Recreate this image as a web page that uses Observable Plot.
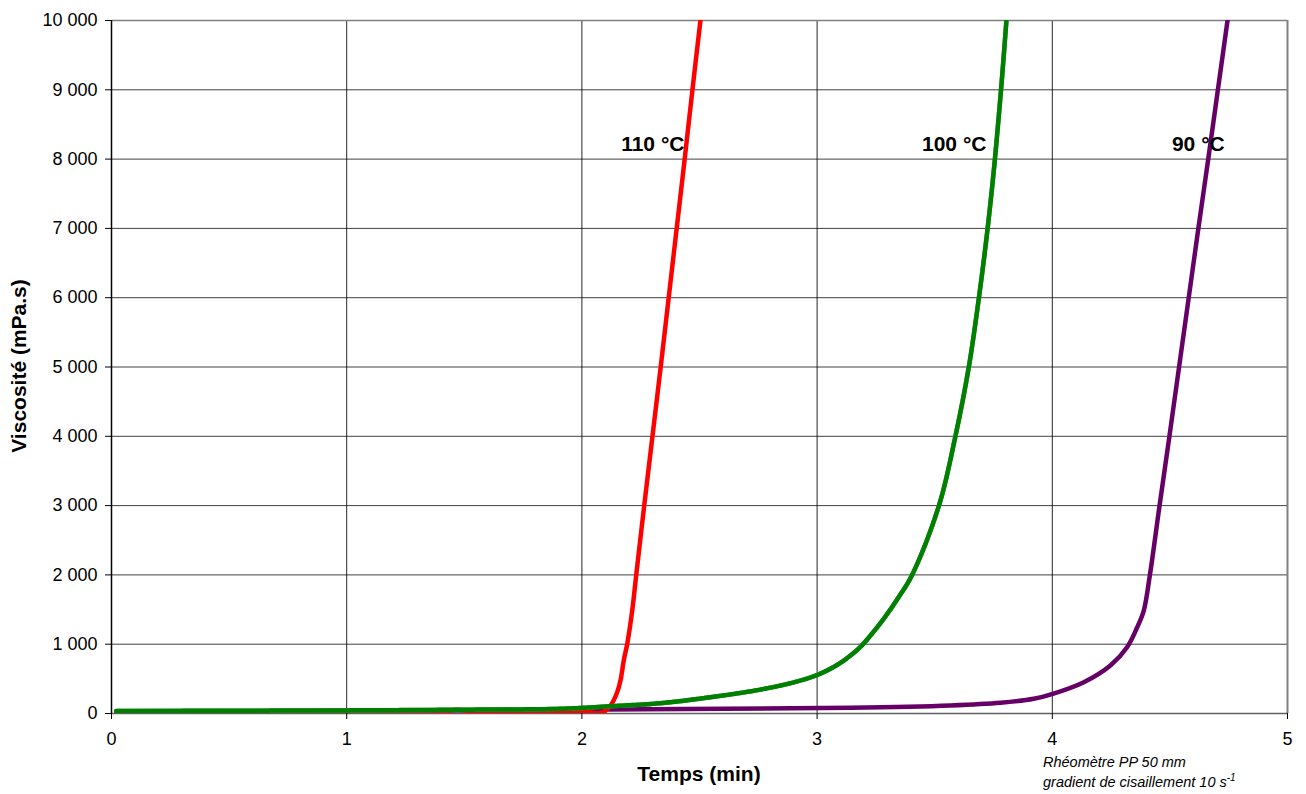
<!DOCTYPE html>
<html>
<head>
<meta charset="utf-8">
<script src="https://cdn.jsdelivr.net/npm/d3@7"></script>
<script src="https://cdn.jsdelivr.net/npm/@observablehq/plot@0.6"></script>
<style>
  html, body { margin: 0; padding: 0; background: #fff; }
  #chart { width: 1306px; height: 794px; }
  svg { font-family: "Liberation Sans", Arial, sans-serif; }
</style>
</head>
<body>
<div id="chart"></div>
<script>
// ---- Data ----
// 110 °C
const t110 = [0.02, 0.5, 1.0, 1.4, 1.47, 1.55, 2.0, 2.07, 2.1, 2.122, 2.15, 2.164, 2.178, 2.193, 2.214, 2.231, 2.265, 2.300, 2.335, 2.369, 2.403, 2.437, 2.470, 2.504];
const v110 = [25, 25, 28, 30, 55, 30, 30, 5, 40, 115, 307, 476, 765, 1010, 1486, 2000, 3000, 4000, 5000, 6000, 7000, 8000, 9000, 10000];
// 100 °C
const t100 = [0.02, 0.5, 1.0, 1.5, 1.909, 2.122, 2.334, 2.547, 2.759, 2.901, 3.0, 3.085, 3.142, 3.184, 3.227, 3.284, 3.345, 3.404, 3.518, 3.588, 3.645, 3.688, 3.725, 3.756, 3.782, 3.805];
const v100 = [35, 40, 45, 55, 68, 105, 149, 235, 345, 450, 555, 700, 837, 960, 1126, 1370, 1670, 2000, 3000, 4000, 5000, 6000, 7000, 8000, 9000, 10000];
// 90 °C
const t90 = [0.02, 1.0, 2.1, 3.142, 3.567, 3.78, 3.921, 4.002, 4.134, 4.247, 4.318, 4.361, 4.389, 4.415, 4.456, 4.498, 4.539, 4.580, 4.621, 4.663, 4.704, 4.745];
const v90 = [25, 35, 58, 82, 115, 154, 212, 284, 452, 693, 957, 1245, 1486, 2000, 3000, 4000, 5000, 6000, 7000, 8000, 9000, 10000];

const xTicks = [0, 1, 2, 3, 4, 5];
const yTicks = [0, 1000, 2000, 3000, 4000, 5000, 6000, 7000, 8000, 9000, 10000];

const seriesLabels = ["110 °C", "100 °C", "90 °C"];
const labelT = [2.436, 3.72, 4.733];
const labelV = [8220, 8220, 8220];

const xTitle = "Temps (min)";
const yTitle = "Viscosité (mPa.s)";
const note1 = "Rhéomètre PP 50 mm";
const note2 = "gradient de cisaillement 10 s";

// ---- Build tables ----
const d110 = t110.map((t, i) => ({t, v: v110[i]}));
const d100 = t100.map((t, i) => ({t, v: v100[i]}));
const d90 = t90.map((t, i) => ({t, v: v90[i]}));
const labels = seriesLabels.map((s, i) => ({s, t: labelT[i], v: labelV[i]}));

const fmt = d3.formatLocale({decimal: ",", thousands: "\u00a0", grouping: [3]}).format(",d");
const curve = "catmull-rom";

const plot = Plot.plot({
  width: 1306,
  height: 794,
  marginLeft: 111,
  marginRight: 19,
  marginTop: 20,
  marginBottom: 81,
  style: {fontFamily: "'Liberation Sans', Arial, sans-serif", fontSize: "18px", color: "#000", background: "#fff"},
  x: {domain: [0, 5]},
  y: {domain: [0, 10000]},
  marks: [
    Plot.ruleY(yTicks, {stroke: "#000", strokeOpacity: 0.75, strokeWidth: 1}),
    Plot.ruleX(xTicks.slice(1, 5), {stroke: "#000", strokeOpacity: 0.85, strokeWidth: 1}),
    Plot.ruleX([5], {stroke: "#808080", strokeWidth: 2}),
    Plot.ruleY([10000], {stroke: "#808080", strokeWidth: 1.5}),
    Plot.ruleY([0], {stroke: "#606060", strokeWidth: 1.5}),
    Plot.line(d90, {x: "t", y: "v", stroke: "#660066", strokeWidth: 4.5, curve, clip: true}),
    Plot.line(d110, {x: "t", y: "v", stroke: "#ff0000", strokeWidth: 4.5, curve, clip: true}),
    Plot.line(d100, {x: "t", y: "v", stroke: "#4f9a4f", strokeWidth: 4.5, curve, clip: true}),
    Plot.line(d100, {x: "t", y: "v", stroke: "#008000", strokeWidth: 4.5, strokeDasharray: "3,0.8", curve, clip: true}),
    Plot.text(labels, {x: "t", y: "v", text: "s", textAnchor: "end", fontWeight: "bold", fontSize: 21, fill: "#000"}),
    Plot.axisY({ticks: yTicks, tickFormat: fmt, tickSize: 6, tickPadding: 8, fontSize: 18, label: null, stroke: "#000"}),
    Plot.axisX({ticks: xTicks, tickFormat: d => String(d), tickSize: 6, tickPadding: 13, fontSize: 18, label: null, stroke: "#000"}),
    Plot.ruleX([0], {stroke: "#000", strokeWidth: 1.5, y1: 0, y2: 10000})
  ]
});

document.getElementById("chart").appendChild(plot);

const svg = d3.select(plot);
svg.append("text")
  .attr("x", 699).attr("y", 781)
  .attr("text-anchor", "middle")
  .style("font-size", "21px").style("font-weight", "bold").attr("fill", "#000")
  .text(xTitle);
svg.append("text")
  .attr("transform", "translate(26,366) rotate(-90)")
  .attr("text-anchor", "middle")
  .style("font-size", "21px").style("font-weight", "bold").attr("fill", "#000")
  .text(yTitle);
svg.append("text")
  .attr("x", 1043).attr("y", 767)
  .attr("text-anchor", "start")
  .style("font-size", "14.5px").style("font-style", "italic").attr("fill", "#000")
  .text(note1);
const n2 = svg.append("text")
  .attr("x", 1043).attr("y", 787)
  .attr("text-anchor", "start")
  .style("font-size", "14.5px").style("font-style", "italic").attr("fill", "#000");
n2.append("tspan").text(note2);
n2.append("tspan").attr("dy", -6).style("font-size", "10px").text("-1");
</script>
</body>
</html>
